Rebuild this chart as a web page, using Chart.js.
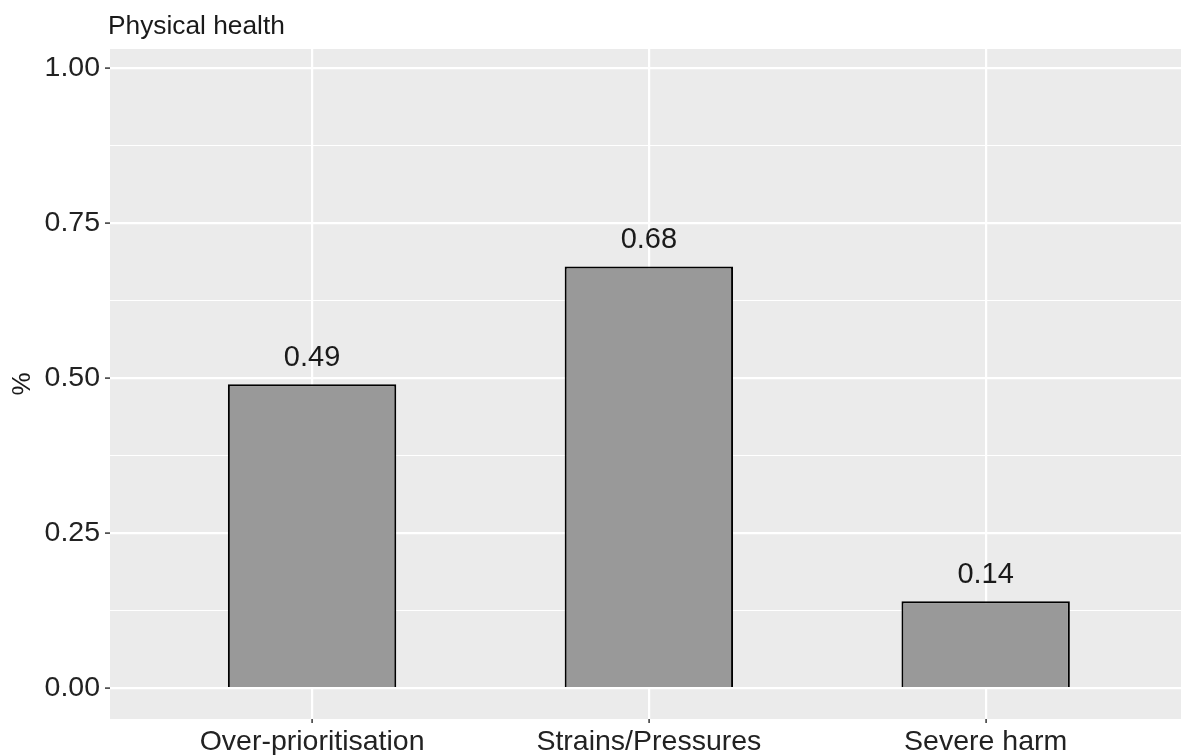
<!DOCTYPE html>
<html>
<head>
<meta charset="utf-8">
<script src="https://cdn.jsdelivr.net/npm/chart.js@4.4.0/dist/chart.umd.min.js"></script>
<style>
  html, body { margin: 0; padding: 0; background: #ffffff; overflow: hidden; }
  #wrap { width: 1181px; height: 755px; position: relative; }
</style>
</head>
<body>
<div id="wrap"><canvas id="c"></canvas></div>
<script>
// Share of respondents reporting each kind of physical-health impact
const categories = ['Over-prioritisation', 'Strains/Pressures', 'Severe harm'];
const shares = [0.49, 0.68, 0.14];
const yMajorTicks = [0, 0.25, 0.5, 0.75, 1.0];
const yMinorTicks = [0.125, 0.375, 0.625, 0.875];
const chartTitle = 'Physical health';
const yTitle = '%';

const FONT = "'Liberation Sans', Arial, sans-serif";

// Grey panel behind the plotting area
const panelBackground = {
  id: 'panelBackground',
  beforeDraw(chart) {
    const { ctx, chartArea: a } = chart;
    ctx.save();
    ctx.fillStyle = '#EBEBEB';
    ctx.fillRect(a.left, a.top, a.right - a.left, a.bottom - a.top);
    ctx.restore();
  }
};

// Value labels above each bar, plus the title and the y-axis title
const annotations = {
  id: 'annotations',
  afterDatasetsDraw(chart) {
    const { ctx } = chart;
    const meta = chart.getDatasetMeta(0);
    ctx.save();
    ctx.fillStyle = '#1a1a1a';
    ctx.font = '29px ' + FONT;
    ctx.textAlign = 'center';
    ctx.textBaseline = 'alphabetic';
    meta.data.forEach((bar, i) => {
      ctx.fillText(shares[i].toFixed(2), bar.x, bar.y - 18.5);
    });
    ctx.restore();
  },
  afterDraw(chart) {
    const { ctx, chartArea: a } = chart;
    ctx.save();
    ctx.fillStyle = '#1a1a1a';
    ctx.font = '26.3px ' + FONT;
    ctx.textAlign = 'left';
    ctx.textBaseline = 'alphabetic';
    ctx.fillText(chartTitle, a.left - 2, 34);

    ctx.translate(23, (a.top + a.bottom) / 2);
    ctx.rotate(-Math.PI / 2);
    ctx.textAlign = 'center';
    ctx.textBaseline = 'middle';
    ctx.font = '26px ' + FONT;
    ctx.fillText(yTitle, 0, 0);
    ctx.restore();
  }
};

const isMajor = v => yMajorTicks.some(t => Math.abs(t - v) < 1e-9);

new Chart(document.getElementById('c'), {
  type: 'bar',
  data: {
    datasets: [{
      data: shares.map((v, i) => ({ x: i, y: v })),
      backgroundColor: '#999999',
      borderColor: '#000000',
      borderWidth: 2,
      barPercentage: 0.5,
      categoryPercentage: 1.0
    }]
  },
  plugins: [panelBackground, annotations],
  options: {
    responsive: true,
    maintainAspectRatio: false,
    animation: false,
    layout: { padding: { top: 49, left: 0, right: 0, bottom: 0 } },
    plugins: {
      legend: { display: false },
      title: { display: false },
      tooltip: { enabled: false }
    },
    scales: {
      x: {
        type: 'linear',
        offset: false,
        min: -0.6,
        max: 2.58,
        afterBuildTicks(scale) {
          scale.ticks = categories.map((_, i) => ({ value: i }));
        },
        afterFit(scale) { scale.height = 36; },
        border: { display: false },
        grid: {
          offset: false,
          color: '#ffffff',
          lineWidth: 2.2,
          tickColor: '#333333',
          tickLength: 4,
          tickWidth: 1.5
        },
        ticks: {
          autoSkip: false,
          maxRotation: 0,
          padding: 2,
          color: '#222222',
          font: { family: FONT, size: 28.5 },
          callback: (v, i) => categories[i]
        }
      },
      y: {
        min: -0.05,
        max: 1.031,
        afterBuildTicks(scale) {
          scale.ticks = yMajorTicks.concat(yMinorTicks)
            .sort((a, b) => a - b)
            .map(v => ({ value: v }));
        },
        afterFit(scale) { scale.width = 110; },
        border: { display: false },
        grid: {
          color: '#ffffff',
          lineWidth: c => isMajor(c.tick.value) ? 2.2 : 1.1,
          tickColor: c => isMajor(c.tick.value) ? '#333333' : 'rgba(0,0,0,0)',
          tickLength: 5,
          tickWidth: 1.5
        },
        ticks: {
          autoSkip: false,
          padding: 5,
          color: '#222222',
          font: { family: FONT, size: 28.5 },
          callback: v => isMajor(v) ? v.toFixed(2) : ''
        }
      }
    }
  }
});
</script>
</body>
</html>
